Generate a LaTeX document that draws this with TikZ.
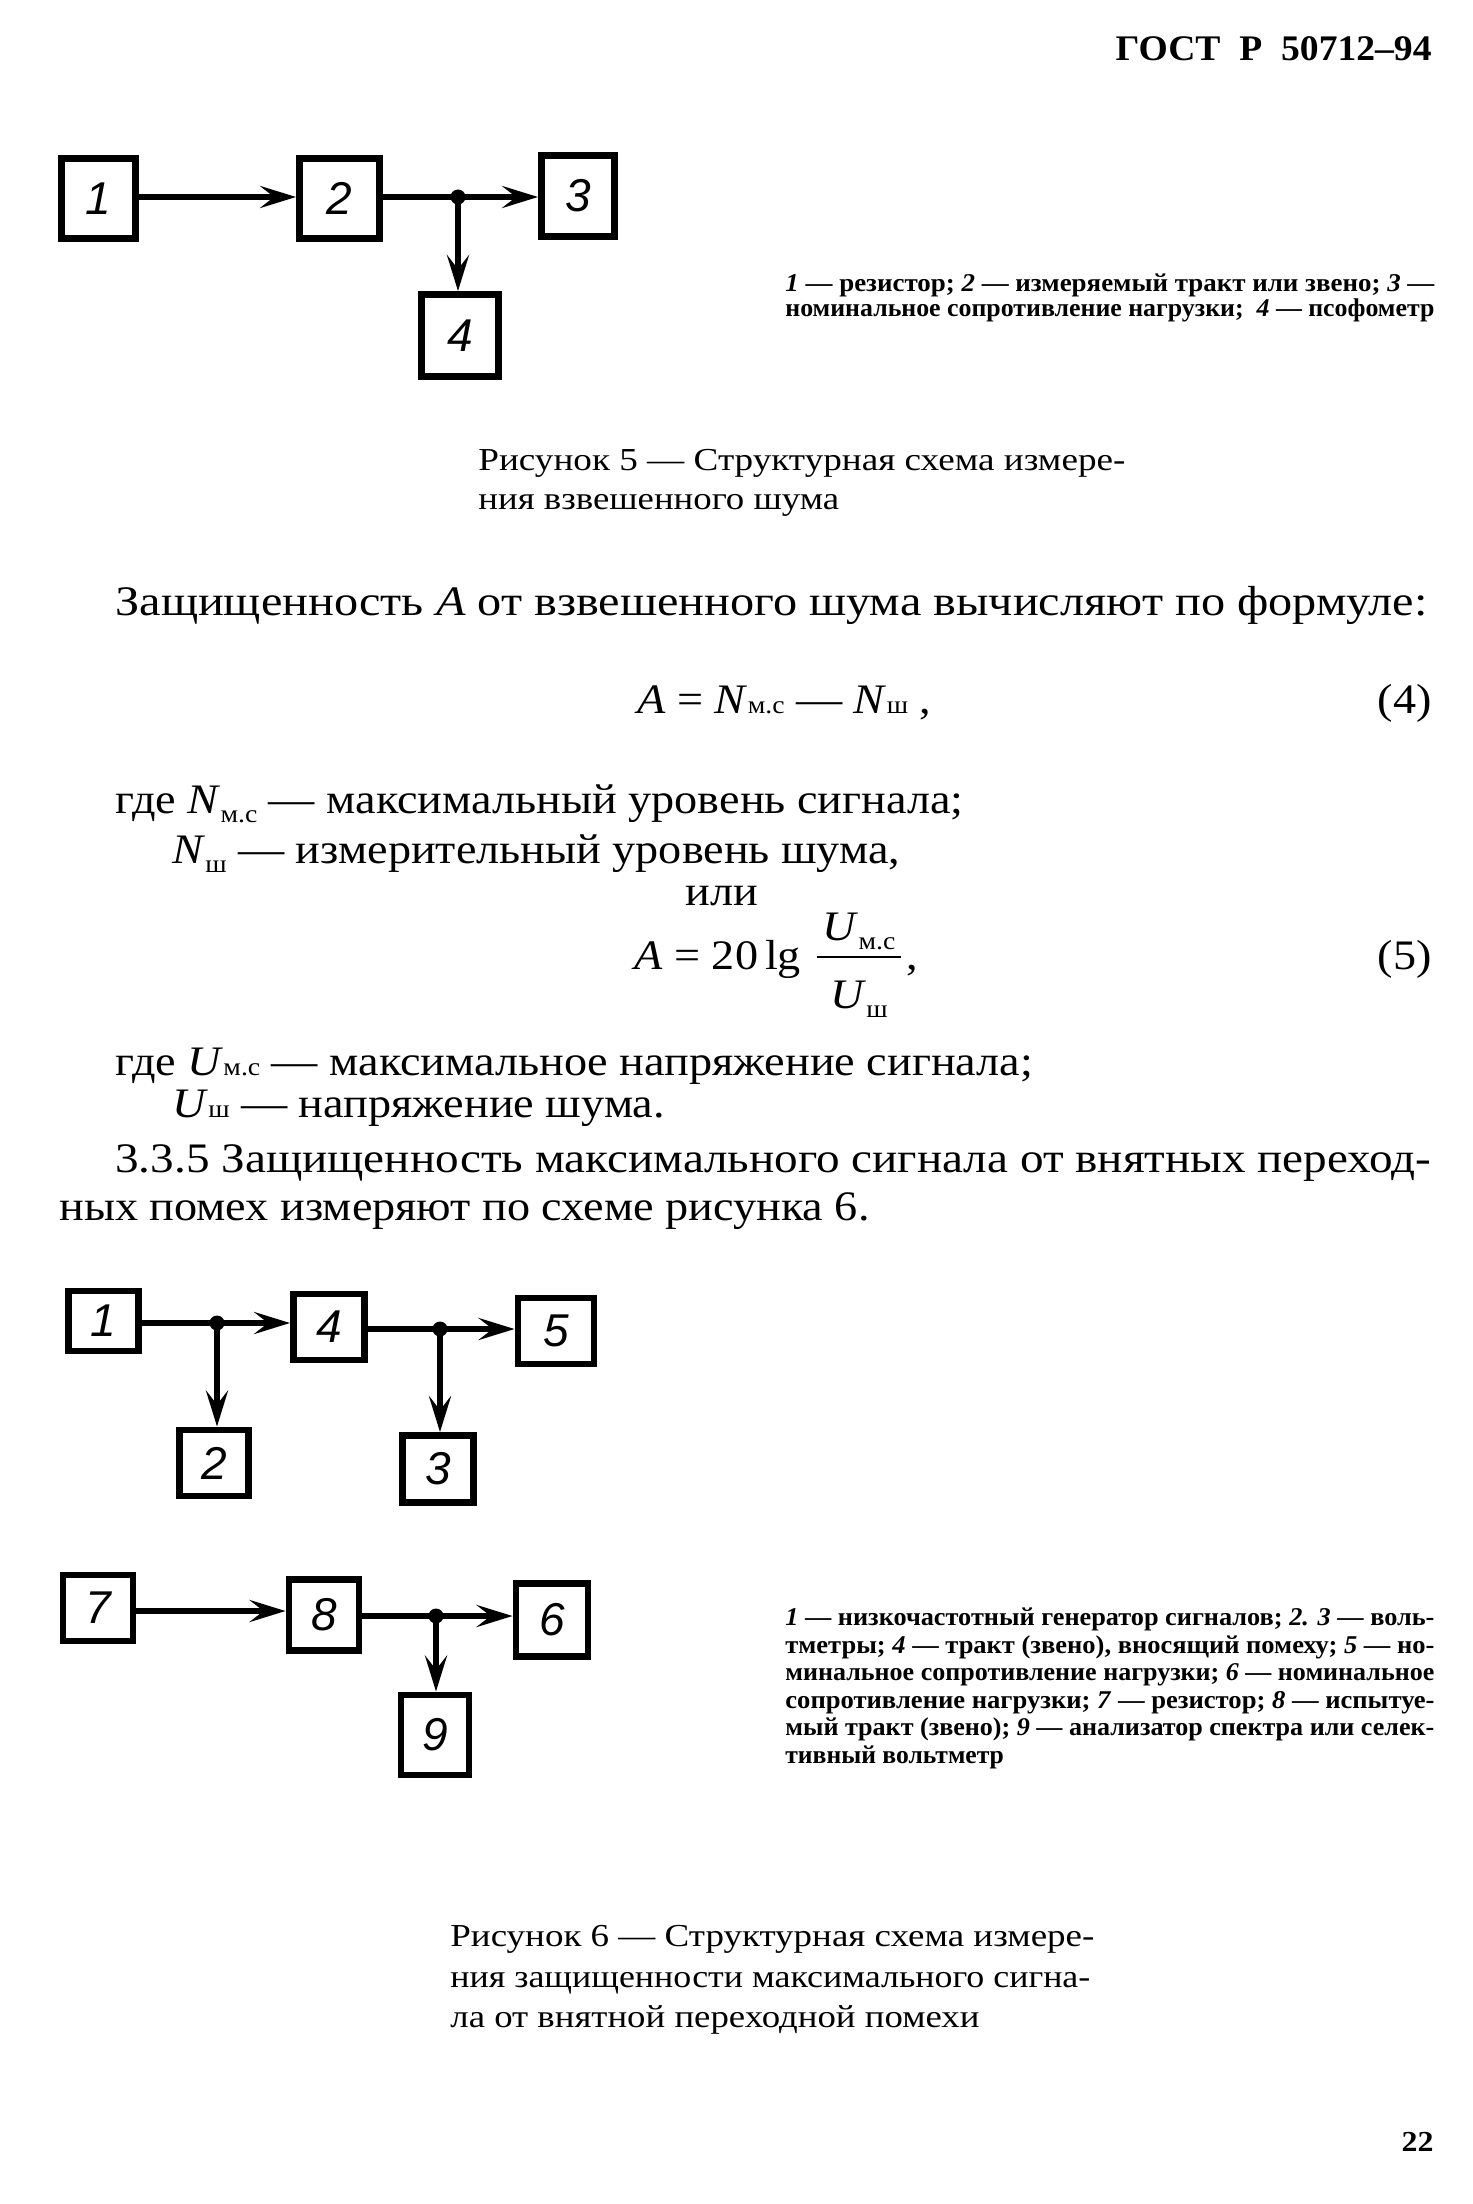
\documentclass[tikz,border=0pt]{standalone}
\usepackage{fontspec}
\usepackage{graphicx}
\usetikzlibrary{arrows.meta}
\setmainfont{Liberation Serif}[FakeStretch=1.1]
\newfontfamily\capfont{Liberation Serif}[FakeStretch=1.15]
\newfontfamily\legfont{Liberation Serif}
\newfontfamily\digfont{Liberation Sans}
\newcommand\fitto[2]{\resizebox{#1}{\height}{#2}}
\newcommand\ssub[1]{\scalebox{0.6}{#1}}
\newcommand\lsub[1]{\raisebox{-0.5ex}{\scalebox{0.6}{#1}}}
\begin{document}
\begin{tikzpicture}[x=0.5pt,y=-0.5pt,
  blk/.style={draw, line width=3.4pt, inner sep=0pt, font=\digfont\itshape\fontsize{23}{23}\selectfont},
  arr/.style={line width=2.8pt, -{Stealth[length=18pt,width=11pt,inset=7pt]}},
  wire/.style={line width=2.8pt},
  jdot/.style={circle, fill, inner sep=0pt, minimum size=7.5pt},
  txt/.style={anchor=base west, inner sep=0pt, font=\fontsize{21}{24}\selectfont},
  legtxt/.style={anchor=base west, inner sep=0pt, font=\legfont\bfseries\fontsize{12.8}{13}\selectfont},
  captxt/.style={anchor=base west, inner sep=0pt, font=\capfont\fontsize{16}{19}\selectfont}]
\fill[white] (0,0) rectangle (1472,2204);
\useasboundingbox (0,0) rectangle (1472,2204);

% header
\node[anchor=base east, inner sep=0pt, font=\bfseries\fontsize{18}{18}\selectfont] (hdr) at (1432,61) {\fitto{158pt}{ГОСТ\ \ Р\ \ 50712–94}};

% ---------- Figure 5 ----------
\node[blk, minimum width=37pt, minimum height=40pt] (a1) at (98.5,198.5) {1};
\node[blk, minimum width=40pt, minimum height=40pt] (a2) at (339.5,198.5) {2};
\node[blk, minimum width=36.5pt, minimum height=40.5pt] (a3) at (578,196) {3};
\node[blk, minimum width=38.5pt, minimum height=41pt] (a4) at (460,335.5) {4};
\coordinate (j5) at (458,197);
\draw[arr] (a1.east |- j5) -- (j5 -| a2.west);
\draw[wire] (a2.east |- j5) -- (j5);
\draw[arr] (j5) -- (j5 -| a3.west);
\draw[arr] (j5) -- (j5 |- a4.north);
\node[jdot] (d5) at (j5) {};

\node[legtxt] (l5a) at (785,292) {\fitto{324.5pt}{\textit{1} — резистор;\ \textit{2} — измеряемый тракт или звено;\ \textit{3} —}};
\node[legtxt] (l5b) at (785,317) {\fitto{324.5pt}{номинальное сопротивление нагрузки;\ \ \textit{4} — псофометр}};

\node[captxt] (c5a) at (478,470) {\fitto{323.5pt}{Рисунок 5 — Структурная схема измере-}};
\node[captxt] (c5b) at (478,509) {ния взвешенного шума};

% ---------- text ----------
\node[txt] (p1) at (115,615) {\fitto{656pt}{Защищенность \textit{A} от взвешенного шума вычисляют по формуле:}};
\node[txt] (f4) at (637,713) {\textit{A} = \textit{N}\ssub{м.с} — \textit{N}\ssub{ш} ,};
\node[txt, anchor=base east] (n4) at (1432,713) {(4)};
\node[txt] (w1) at (115,813) {где \textit{N}\lsub{м.с} — максимальный уровень сигнала;};
\node[txt] (w2) at (172,863) {\textit{N}\lsub{ш} — измерительный уровень шума,};
\node[txt, anchor=base] (ili) at (722,905) {или};
\node[txt] (f5) at (634,969) {\textit{A} = 20\,lg};
\node[txt, anchor=base] (f5n) at (859,940) {\textit{U}\lsub{м.с}};
\node[txt, anchor=base] (f5d) at (859,1008) {\textit{U}\lsub{ш}};
\coordinate (bar1) at (817,957);
\coordinate (bar2) at (901,957);
\draw[line width=1pt] (bar1) -- (bar2);
\node[txt] (f5c) at (906,969) {,};
\node[txt, anchor=base east] (n5) at (1432,969) {(5)};
\node[txt] (w3) at (115,1075) {где \textit{U}\ssub{м.с} — максимальное напряжение сигнала;};
\node[txt] (w4) at (172,1117) {\textit{U}\ssub{ш} — напряжение шума.};
\node[txt] (p2) at (115,1172) {\fitto{658pt}{3.3.5 Защищенность максимального сигнала от внятных переход-}};
\node[txt] (p3) at (59,1220) {ных помех измеряют по схеме рисунка 6.};

% ---------- Figure 6 ----------
\node[blk, minimum width=35pt, minimum height=30pt] (b1) at (103.5,1321) {1};
\node[blk, minimum width=35.5pt, minimum height=33pt] (b4) at (329,1327) {4};
\node[blk, minimum width=38pt, minimum height=33pt] (b5) at (556,1331) {5};
\node[blk, minimum width=34.5pt, minimum height=33pt] (b2) at (214,1463) {2};
\node[blk, minimum width=35.5pt, minimum height=33.5pt] (b3) at (438,1469) {3};
\coordinate (jA) at (217,1323);
\coordinate (jB) at (440,1329);
\draw[wire] (b1.east |- jA) -- (jA);
\draw[arr] (jA) -- (jA -| b4.west);
\draw[arr] (jA) -- (jA |- b2.north);
\draw[wire] (b4.east |- jB) -- (jB);
\draw[arr] (jB) -- (jB -| b5.west);
\draw[arr] (jB) -- (jB |- b3.north);
\node[jdot] (dA) at (jA) {};
\node[jdot] (dB) at (jB) {};

\node[blk, minimum width=35pt, minimum height=33pt] (b7) at (98,1608) {7};
\node[blk, minimum width=35pt, minimum height=35.5pt] (b8) at (324,1615) {8};
\node[blk, minimum width=36pt, minimum height=36.5pt] (b6) at (552,1620) {6};
\node[blk, minimum width=34pt, minimum height=40pt] (b9) at (435,1735) {9};
\coordinate (jC) at (436,1616);
\coordinate (r7) at (0,1611);
\draw[arr] (b7.east |- r7) -- (b8.west |- r7);
\draw[wire] (b8.east |- jC) -- (jC);
\draw[arr] (jC) -- (jC -| b6.west);
\draw[arr] (jC) -- (jC |- b9.north);
\node[jdot] (dC) at (jC) {};

\node[legtxt] (l6a) at (785,1625) {\fitto{324.5pt}{\textit{1} — низкочастотный генератор сигналов; \textit{2. 3} — воль-}};
\node[legtxt] (l6b) at (785,1653) {\fitto{324.5pt}{тметры; \textit{4} — тракт (звено), вносящий помеху; \textit{5} — но-}};
\node[legtxt] (l6c) at (785,1680) {\fitto{324.5pt}{минальное сопротивление нагрузки; \textit{6} — номинальное}};
\node[legtxt] (l6d) at (785,1708) {\fitto{324.5pt}{сопротивление нагрузки; \textit{7} — резистор; \textit{8} — испытуе-}};
\node[legtxt] (l6e) at (785,1735) {\fitto{324.5pt}{мый тракт (звено); \textit{9} — анализатор спектра или селек-}};
\node[legtxt] (l6f) at (785,1763) {тивный вольтметр};

\node[captxt] (c6a) at (450,1946) {\fitto{322pt}{Рисунок 6 — Структурная схема измере-}};
\node[captxt] (c6b) at (450,1987) {\fitto{320pt}{ния защищенности максимального сигна-}};
\node[captxt] (c6c) at (450,2027) {ла от внятной переходной помехи};

\node[anchor=base east, inner sep=0pt, font=\bfseries\fontsize{14.5}{14.5}\selectfont] (pg) at (1434,2151) {22};
\end{tikzpicture}
\end{document}
